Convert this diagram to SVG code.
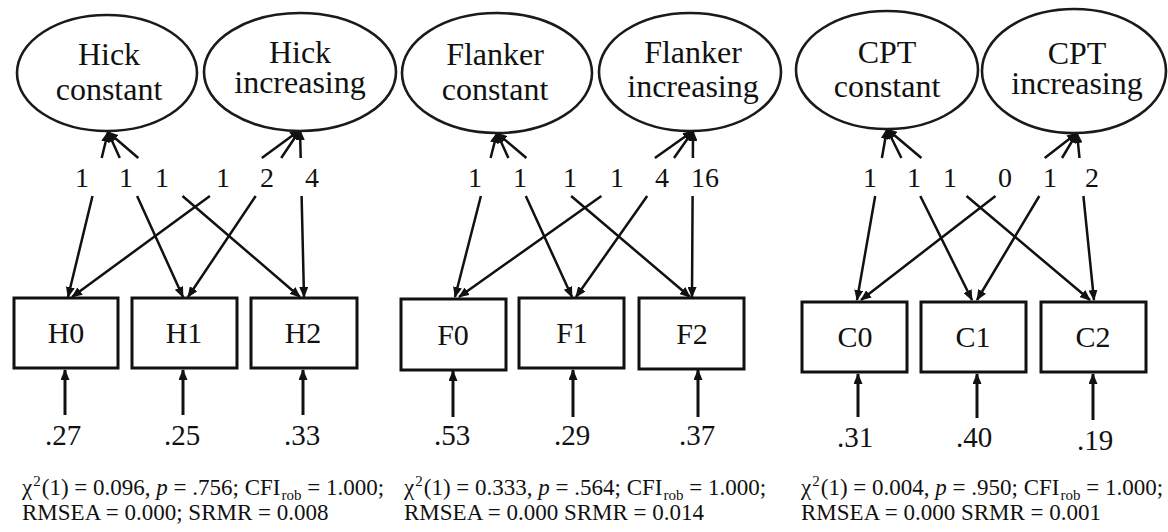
<svg xmlns="http://www.w3.org/2000/svg" width="1168" height="532" viewBox="0 0 1168 532">
  <style>
    text { font-family: "Liberation Serif", "Times New Roman", serif; fill: #111; }
    .latent { fill: #fff; stroke: #1a1a1a; stroke-width: 2.6; }
    .latent-label { font-size: 32px; text-anchor: middle; }
    .obs { fill: #fff; stroke: #111; stroke-width: 3; }
    .obs-label { font-size: 30px; text-anchor: middle; }
    .load { fill: none; stroke: #111; stroke-width: 2.5; marker-start: url(#arrowStart); marker-end: url(#arrowEnd); }
    .resid { fill: none; stroke: #111; stroke-width: 3; marker-end: url(#arrowEnd); }
    .num { font-size: 28px; text-anchor: middle; }
    .rv { font-size: 29px; text-anchor: middle; }
    .fit { font-size: 23px; }
    .sm { font-size: 15px; }
  </style>
  <defs>
    <marker id="arrowEnd" markerUnits="userSpaceOnUse" viewBox="0 0 11 9" refX="10" refY="4.5" markerWidth="11" markerHeight="9" orient="auto">
      <path d="M0,0 L11,4.5 L0,9 z" fill="#111"/>
    </marker>
    <marker id="arrowStart" markerUnits="userSpaceOnUse" viewBox="0 0 11 9" refX="10" refY="4.5" markerWidth="11" markerHeight="9" orient="auto-start-reverse">
      <path d="M0,0 L11,4.5 L0,9 z" fill="#111"/>
    </marker>
  </defs>
  <rect width="1168" height="532" fill="#fff"/>

  <!-- Loadings: latent factor to indicator, broken where the weight row sits -->
  <g id="connectors">
    <!-- Hick -->
    <path class="load" d="M108,132 L101.7,158 M92.5,196 L68,297"/>
    <path class="load" d="M108,132 L119.8,158 M137.1,196 L183,297"/>
    <path class="load" d="M108,132 L138.3,158 M182.5,196 L300,297"/>
    <path class="load" d="M300,130 L261.8,158 M209.9,196 L72,297"/>
    <path class="load" d="M300,130 L281.2,158 M255.7,196 L188,297"/>
    <path class="load" d="M300,130 L300.7,158 M301.6,196 L304,297"/>
    <!-- Flanker -->
    <path class="load" d="M497,133 L490.6,158 M480.9,196 L455,297"/>
    <path class="load" d="M497,133 L508.4,158 M525.8,196 L572,297"/>
    <path class="load" d="M497,133 L526.4,158 M571.1,196 L690,297"/>
    <path class="load" d="M693,131 L654.9,158 M601.4,196 L459,297"/>
    <path class="load" d="M693,131 L674,158 M647.2,196 L576,297"/>
    <path class="load" d="M693,131 L692.9,158 M692.6,196 L692,297"/>
    <!-- CPT -->
    <path class="load" d="M887,129 L881.9,158 M875.2,196 L857,300"/>
    <path class="load" d="M887,129 L901.4,158 M920.3,196 L972,300"/>
    <path class="load" d="M887,129 L921.4,158 M966.5,196 L1090,300"/>
    <path class="load" d="M1077,133 L1044.7,158 M995.5,196 L861,300"/>
    <path class="load" d="M1077,133 L1062,158 M1039.3,196 L977,300"/>
    <path class="load" d="M1077,133 L1079.5,158 M1083.4,196 L1094,300"/>

    <!-- residual variances -->
    <path class="resid" d="M65,415 L65,370"/>
    <path class="resid" d="M183,415 L183,370"/>
    <path class="resid" d="M303,415 L303,370"/>
    <path class="resid" d="M453,417 L453,371"/>
    <path class="resid" d="M573,417 L573,370"/>
    <path class="resid" d="M698,417 L698,370"/>
    <path class="resid" d="M858,417 L858,374"/>
    <path class="resid" d="M977,418 L977,374"/>
    <path class="resid" d="M1093,420 L1093,374"/>
  </g>

  <!-- loading weights -->
  <g id="weights">
    <text class="num" x="82" y="187">1</text>
    <text class="num" x="126" y="187">1</text>
    <text class="num" x="162" y="187">1</text>
    <text class="num" x="223" y="187">1</text>
    <text class="num" x="267" y="187">2</text>
    <text class="num" x="312" y="187">4</text>

    <text class="num" x="475" y="187">1</text>
    <text class="num" x="520" y="187">1</text>
    <text class="num" x="570" y="187">1</text>
    <text class="num" x="617" y="187">1</text>
    <text class="num" x="662" y="187">4</text>
    <text class="num" x="705" y="187">16</text>

    <text class="num" x="870" y="187">1</text>
    <text class="num" x="914" y="187">1</text>
    <text class="num" x="950" y="187">1</text>
    <text class="num" x="1005" y="187">0</text>
    <text class="num" x="1050" y="187">1</text>
    <text class="num" x="1092" y="187">2</text>
  </g>

  <!-- latent factors -->
  <g id="hick-constant">
    <ellipse class="latent" cx="107" cy="73" rx="90" ry="58"/>
    <text class="latent-label" x="109" y="65">Hick</text>
    <text class="latent-label" x="109" y="100">constant</text>
  </g>
  <g id="hick-increasing">
    <ellipse class="latent" cx="300" cy="72" rx="96" ry="59"/>
    <text class="latent-label" x="300" y="63">Hick</text>
    <text class="latent-label" x="300" y="93">increasing</text>
  </g>
  <g id="flanker-constant">
    <ellipse class="latent" cx="497" cy="73" rx="95" ry="60"/>
    <text class="latent-label" x="495" y="65">Flanker</text>
    <text class="latent-label" x="495" y="100">constant</text>
  </g>
  <g id="flanker-increasing">
    <ellipse class="latent" cx="690" cy="72" rx="91" ry="59"/>
    <text class="latent-label" x="693" y="63">Flanker</text>
    <text class="latent-label" x="693" y="97">increasing</text>
  </g>
  <g id="cpt-constant">
    <ellipse class="latent" cx="887" cy="70" rx="91" ry="59"/>
    <text class="latent-label" x="887" y="63">CPT</text>
    <text class="latent-label" x="887" y="97">constant</text>
  </g>
  <g id="cpt-increasing">
    <ellipse class="latent" cx="1074" cy="71" rx="92" ry="62"/>
    <text class="latent-label" x="1077" y="64">CPT</text>
    <text class="latent-label" x="1077" y="94">increasing</text>
  </g>

  <!-- observed indicators -->
  <g id="H0">
    <rect class="obs" x="14" y="298" width="104" height="70"/>
    <text class="obs-label" x="66" y="343">H0</text>
  </g>
  <g id="H1">
    <rect class="obs" x="132" y="298" width="105" height="70"/>
    <text class="obs-label" x="184" y="343">H1</text>
  </g>
  <g id="H2">
    <rect class="obs" x="251" y="298" width="106" height="70"/>
    <text class="obs-label" x="303" y="343">H2</text>
  </g>
  <g id="F0">
    <rect class="obs" x="401" y="299" width="105" height="71"/>
    <text class="obs-label" x="453" y="345">F0</text>
  </g>
  <g id="F1">
    <rect class="obs" x="519" y="298" width="105" height="70"/>
    <text class="obs-label" x="572" y="343">F1</text>
  </g>
  <g id="F2">
    <rect class="obs" x="639" y="298" width="105" height="71"/>
    <text class="obs-label" x="692" y="344">F2</text>
  </g>
  <g id="C0">
    <rect class="obs" x="802" y="302" width="105" height="70"/>
    <text class="obs-label" x="855" y="347">C0</text>
  </g>
  <g id="C1">
    <rect class="obs" x="921" y="302" width="105" height="70"/>
    <text class="obs-label" x="973" y="347">C1</text>
  </g>
  <g id="C2">
    <rect class="obs" x="1041" y="302" width="105" height="70"/>
    <text class="obs-label" x="1093" y="347">C2</text>
  </g>

  <!-- residual variance values -->
  <g id="residuals">
    <text class="rv" x="63" y="445">.27</text>
    <text class="rv" x="182" y="445">.25</text>
    <text class="rv" x="302" y="445">.33</text>
    <text class="rv" x="452" y="445">.53</text>
    <text class="rv" x="572" y="445">.29</text>
    <text class="rv" x="697" y="445">.37</text>
    <text class="rv" x="855" y="447">.31</text>
    <text class="rv" x="974" y="447">.40</text>
    <text class="rv" x="1095" y="450">.19</text>
  </g>

  <!-- model fit statistics -->
  <g id="fit-hick">
    <text class="fit" x="22" y="495">χ<tspan class="sm" dx="1" dy="-9">2</tspan><tspan dx="1" dy="9">(1) = 0.096, </tspan><tspan font-style="italic">p</tspan> = .756; CFI<tspan class="sm" dx="1" dy="5">rob</tspan><tspan dy="-5"> = 1.000;</tspan></text>
    <text class="fit" x="22" y="520">RMSEA = 0.000; SRMR = 0.008</text>
  </g>
  <g id="fit-flanker">
    <text class="fit" x="404" y="495">χ<tspan class="sm" dx="1" dy="-9">2</tspan><tspan dx="1" dy="9">(1) = 0.333, </tspan><tspan font-style="italic">p</tspan> = .564; CFI<tspan class="sm" dx="1" dy="5">rob</tspan><tspan dy="-5"> = 1.000;</tspan></text>
    <text class="fit" x="404" y="520">RMSEA = 0.000 SRMR = 0.014</text>
  </g>
  <g id="fit-cpt">
    <text class="fit" x="801" y="495">χ<tspan class="sm" dx="1" dy="-9">2</tspan><tspan dx="1" dy="9">(1) = 0.004, </tspan><tspan font-style="italic">p</tspan> = .950; CFI<tspan class="sm" dx="1" dy="5">rob</tspan><tspan dy="-5"> = 1.000;</tspan></text>
    <text class="fit" x="801" y="520">RMSEA = 0.000 SRMR = 0.001</text>
  </g>
</svg>
